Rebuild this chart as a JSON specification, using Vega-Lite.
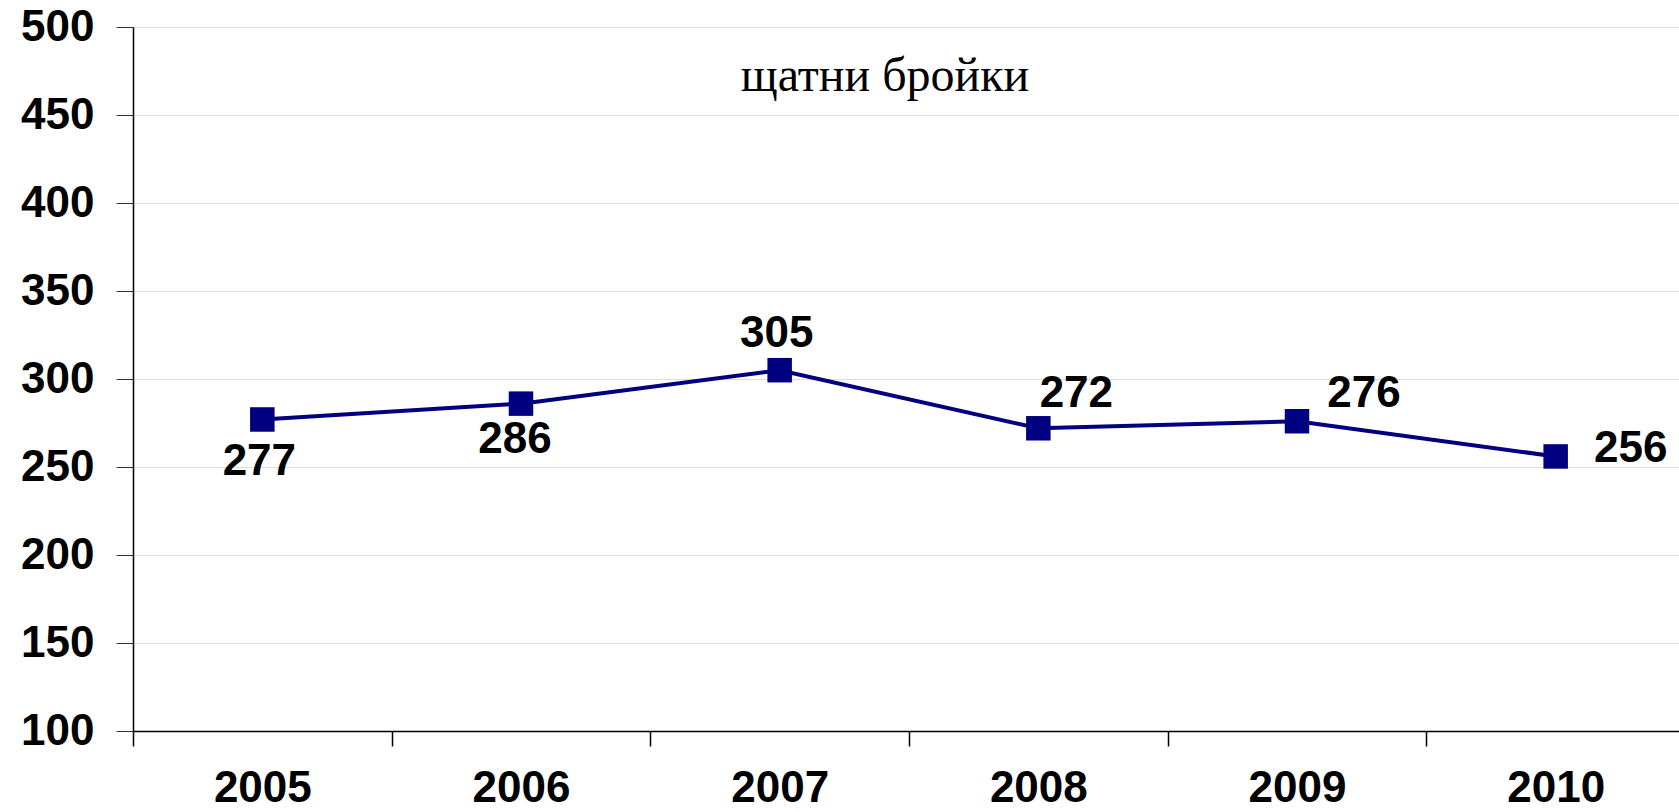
{
  "$schema": "https://vega.github.io/schema/vega-lite/v6.json",
  "autosize": "none",
  "padding": {"left": 133, "top": 27, "right": 0, "bottom": 81},
  "width": 1552,
  "height": 704,
  "background": "white",
  "title": {
    "text": "щатни бройки",
    "font": "Liberation Serif",
    "fontSize": 48,
    "fontWeight": "normal",
    "color": "black",
    "frame": "group",
    "anchor": "middle",
    "orient": "none",
    "baseline": "alphabetic",
    "offset": 0,
    "dy": 64,
    "dx": 752
  },
  "data": {
    "values": [
      {"year": "2005", "value": 277},
      {"year": "2006", "value": 286},
      {"year": "2007", "value": 305},
      {"year": "2008", "value": 272},
      {"year": "2009", "value": 276},
      {"year": "2010", "value": 256}
    ]
  },
  "encoding": {
    "x": {
      "field": "year",
      "type": "ordinal",
      "scale": {"paddingInner": 0, "paddingOuter": 0},
      "axis": {
        "title": null,
        "labelAngle": 0,
        "labelFont": "Liberation Sans",
        "labelFontWeight": "bold",
        "labelFontSize": 44,
        "labelColor": "black",
        "labelBaseline": "alphabetic",
        "labelPadding": 55,
        "tickBand": "extent",
        "tickSize": 15,
        "tickColor": "black",
        "tickWidth": 1.5,
        "domainColor": "black",
        "domainWidth": 1.5,
        "grid": false
      }
    },
    "y": {
      "field": "value",
      "type": "quantitative",
      "scale": {"domain": [100, 500], "nice": false, "zero": false},
      "axis": {
        "title": null,
        "values": [100, 150, 200, 250, 300, 350, 400, 450, 500],
        "labelFont": "Liberation Sans",
        "labelFontWeight": "bold",
        "labelFontSize": 44,
        "labelColor": "black",
        "labelPadding": 22,
        "labelBaseline": "middle",
        "tickSize": 17,
        "tickColor": "#333333",
        "tickWidth": 1,
        "domainColor": "black",
        "domainWidth": 1.5,
        "grid": true,
        "gridColor": "#dddddd",
        "gridWidth": 1
      }
    }
  },
  "layer": [
    {"mark": {"type": "line", "color": "#000080", "strokeWidth": 4}},
    {"mark": {"type": "point", "shape": "square", "filled": true, "color": "#000080", "size": 600, "opacity": 1}},
    {
      "transform": [{"filter": "datum.year == '2005'"}],
      "mark": {"type": "text", "font": "Liberation Sans", "fontWeight": "bold", "fontSize": 44, "color": "black", "baseline": "alphabetic", "align": "center", "dx": -3, "dy": 56},
      "encoding": {"text": {"field": "value", "type": "quantitative"}}
    },
    {
      "transform": [{"filter": "datum.year == '2006'"}],
      "mark": {"type": "text", "font": "Liberation Sans", "fontWeight": "bold", "fontSize": 44, "color": "black", "baseline": "alphabetic", "align": "center", "dx": -6, "dy": 49},
      "encoding": {"text": {"field": "value", "type": "quantitative"}}
    },
    {
      "transform": [{"filter": "datum.year == '2007'"}],
      "mark": {"type": "text", "font": "Liberation Sans", "fontWeight": "bold", "fontSize": 44, "color": "black", "baseline": "alphabetic", "align": "center", "dx": -3, "dy": -23},
      "encoding": {"text": {"field": "value", "type": "quantitative"}}
    },
    {
      "transform": [{"filter": "datum.year == '2008'"}],
      "mark": {"type": "text", "font": "Liberation Sans", "fontWeight": "bold", "fontSize": 44, "color": "black", "baseline": "alphabetic", "align": "center", "dx": 38, "dy": -21},
      "encoding": {"text": {"field": "value", "type": "quantitative"}}
    },
    {
      "transform": [{"filter": "datum.year == '2009'"}],
      "mark": {"type": "text", "font": "Liberation Sans", "fontWeight": "bold", "fontSize": 44, "color": "black", "baseline": "alphabetic", "align": "center", "dx": 67, "dy": -14},
      "encoding": {"text": {"field": "value", "type": "quantitative"}}
    },
    {
      "transform": [{"filter": "datum.year == '2010'"}],
      "mark": {"type": "text", "font": "Liberation Sans", "fontWeight": "bold", "fontSize": 44, "color": "black", "baseline": "alphabetic", "align": "center", "dx": 75, "dy": 6},
      "encoding": {"text": {"field": "value", "type": "quantitative"}}
    }
  ],
  "config": {"view": {"stroke": null}}
}
